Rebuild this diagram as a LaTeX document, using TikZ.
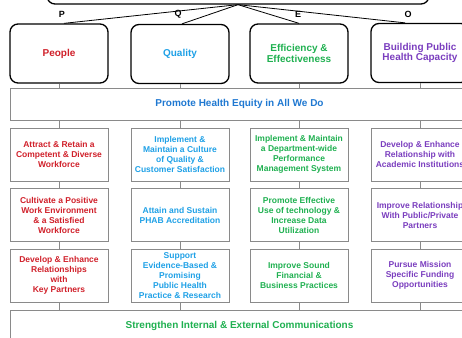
\documentclass[tikz,border=0pt]{standalone}
\usepackage{fontspec}
\setmainfont{Liberation Sans}
\definecolor{pred}{HTML}{D0202A}
\definecolor{qblue}{HTML}{1EA0E6}
\definecolor{eqblue}{HTML}{1F78D1}
\definecolor{egreen}{HTML}{1FB050}
\definecolor{opurple}{HTML}{7A3DBE}
\definecolor{lgray}{HTML}{8A8A8A}

\begin{document}
\begin{tikzpicture}[x=1pt,y=-1pt,
  goalbox/.style={draw=black,line width=1.3pt,rounded corners=8pt,minimum width=382pt,minimum height=48pt},
  head/.style={draw=black,line width=1.3pt,rounded corners=8pt,minimum width=98pt,minimum height=59pt,
    align=center,inner sep=1pt,font=\fontsize{10}{10.5}\selectfont\bfseries},
  band/.style={draw=lgray,line width=0.8pt,minimum width=459pt,minimum height=32pt,
    font=\fontsize{10}{12}\selectfont\bfseries},
  item/.style={draw=lgray,line width=0.8pt,minimum width=98pt,minimum height=53pt,
    align=center,inner sep=1pt,font=\fontsize{8.5}{10}\selectfont\bfseries},
  letter/.style={font=\fontsize{9}{10}\selectfont\bfseries},
  link/.style={draw=lgray,line width=0.8pt}]
\useasboundingbox (0,0) rectangle (462,337);

\node[goalbox] (goal) at (238,-20) {};

\node[letter] (lp) at (62,14) {P};
\node[letter] (lq) at (178,14) {Q};
\node[letter] (le) at (298,14) {E};
\node[letter] (lo) at (408,14) {O};

\node[head,text=pred]    (p0) at (59,53.5)  {People};
\node[head,text=qblue]   (q0) at (180,54)   {Quality};
\node[head,text=egreen]  (e0) at (299,53.5) {Efficiency \&\\Effectiveness};
\node[head,text=opurple] (o0) at (420,53)   {Building Public\\Health Capacity};

\node[band,text=eqblue] (equity) at (239.5,104) {Promote Health Equity in All We Do};

\node[item,text=pred] (p1) at (59,154.5) {Attract \& Retain a\\Competent \& Diverse\\Workforce};
\node[item,text=pred] (p2) at (59,215)   {Cultivate a Positive\\Work Environment\\\& a Satisfied\\Workforce};
\node[item,text=pred] (p3) at (59,275.5) {Develop \& Enhance\\Relationships\\with\\Key Partners};

\node[item,text=qblue] (q1) at (180,154.5) {Implement \&\\Maintain a Culture\\of Quality \&\\Customer Satisfaction};
\node[item,text=qblue] (q2) at (180,215)   {Attain and Sustain\\PHAB Accreditation};
\node[item,text=qblue] (q3) at (180,275.5) {Support\\Evidence-Based \&\\Promising\\Public Health\\Practice \& Research};

\node[item,text=egreen] (e1) at (299,154.5) {Implement \& Maintain\\a Department-wide\\Performance\\Management System};
\node[item,text=egreen] (e2) at (299,215)   {Promote Effective\\Use of technology \&\\Increase Data\\Utilization};
\node[item,text=egreen] (e3) at (299,275.5) {Improve Sound\\Financial \&\\Business Practices};

\node[item,text=opurple] (o1) at (420,154.5) {Develop \& Enhance\\Relationship with\\Academic Institutions};
\node[item,text=opurple] (o2) at (420,215)   {Improve Relationship\\With Public/Private\\Partners};
\node[item,text=opurple] (o3) at (420,275.5) {Pursue Mission\\Specific Funding\\Opportunities};

\node[band,text=egreen] (comm) at (239.5,326) {Strengthen Internal \& External Communications};

\draw[line width=0.8pt] (goal.south) -- ([xshift=5pt]p0.north);
\draw[line width=0.8pt] (goal.south) -- ([xshift=2pt]q0.north);
\draw[line width=0.8pt] (goal.south) -- (e0.north);
\draw[line width=0.8pt] (goal.south) -- ([xshift=-15pt]o0.north);

\foreach \c in {p,q,e,o}{
  \draw[link] (\c0.south) -- (equity.north -| \c0.south);
  \draw[link] (equity.south -| \c1.north) -- (\c1.north);
  \draw[link] (\c1.south) -- (\c2.north);
  \draw[link] (\c2.south) -- (\c3.north);
  \draw[link] (\c3.south) -- (comm.north -| \c3.south);
}
\end{tikzpicture}
\end{document}
